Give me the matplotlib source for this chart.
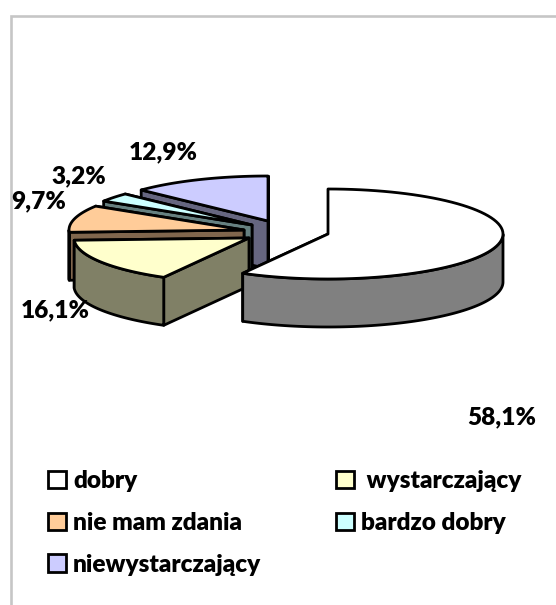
#!/usr/bin/env python
# -*- coding: utf-8 -*-
import numpy as np
import matplotlib
matplotlib.use("Agg")
import matplotlib.pyplot as plt
from matplotlib.patches import Polygon, Patch

labels = ["dobry", " wystarczający", "nie mam zdania", "bardzo dobry", "niewystarczający"]
values = [58.1, 16.1, 9.7, 3.2, 12.9]
value_labels = ["58,1%", "16,1%", "9,7%", "3,2%", "12,9%"]
colors = ["#FFFFFF", "#FFFFCC", "#FFCC99", "#CCFFFF", "#CCCCFF"]

# pixel layout of the exploded pie
centers = [(328, 234), (249, 238), (244, 230), (252, 225), (268, 221)]
label_pos = [(467, 417), (21, 310), (11, 201), (51, 176), (129, 152)]
rx, ry, depth = 175.0, 45.0, 48.0
line_w = 2.0
font = "Lato"
font_size = 17.6


def darker(c):
    rgb = matplotlib.colors.to_rgb(c)
    return tuple(v * 0.5 for v in rgb)


def arc(cx, cy, a0, a1, dy=0.0):
    t = np.radians(np.linspace(a0, a1, 80))
    return np.column_stack([cx + rx * np.cos(t), cy - ry * np.sin(t) + dy])


def draw_slice(ax, cx, cy, a0, a1, color):
    side = darker(color)
    pts = arc(cx, cy, a0, a1)
    # the two cut faces, the one further back first
    for p in sorted((pts[0], pts[-1]), key=lambda q: q[1]):
        face = [(cx, cy), p, (p[0], p[1] + depth), (cx, cy + depth)]
        ax.add_patch(Polygon(face, closed=True, fc=side, ec="black", lw=line_w, joinstyle="round"))
    # outer wall, front part only
    t = np.linspace(a0, a1, 200)
    front = t[np.sin(np.radians(t)) <= 0]
    if len(front) > 1:
        top = arc(cx, cy, front[0], front[-1])
        bottom = arc(cx, cy, front[-1], front[0], depth)
        ax.add_patch(Polygon(np.vstack([top, bottom]), closed=True, fc=side, ec="black",
                             lw=line_w, joinstyle="round"))
    ax.add_patch(Polygon(np.vstack([[(cx, cy)], pts]), closed=True, fc=color, ec="black",
                         lw=line_w, joinstyle="round"))


fig = plt.figure(figsize=(5.56, 6.05), dpi=100)
ax = fig.add_axes([0, 0, 1, 1])
ax.set_xlim(0, 556)
ax.set_ylim(605, 0)
ax.axis("off")

# frame of the chart, only top and left are in the crop
ax.plot([10.5, 10.5, 556], [605, 15.5, 15.5], color="#C6C6C6", lw=1.9, solid_joinstyle="miter")

# slice angles run clockwise from 12 o'clock
ends = 90 - np.cumsum(values) * 3.6
starts = np.concatenate([[90], ends[:-1]])

for i in [4, 3, 2, 1, 0]:
    draw_slice(ax, centers[i][0], centers[i][1], starts[i], ends[i], colors[i])

for i in range(len(values)):
    ax.text(label_pos[i][0], label_pos[i][1], value_labels[i], family=font, weight="heavy",
            fontsize=font_size, ha="left", va="center", color="black")

order = [0, 2, 4, 1, 3]
handles = [Patch(fc=colors[i], ec="black", lw=line_w, label=labels[i]) for i in order]
ax.legend(handles=handles, ncol=2, loc="upper left", bbox_to_anchor=(48 / 556, 1 - 470 / 605),
          frameon=False, borderpad=0, borderaxespad=0, handlelength=0.72, handleheight=0.72,
          handletextpad=0.3, labelspacing=0.81, columnspacing=3.07,
          prop={"family": font, "weight": "heavy", "size": font_size})

fig.savefig("out.png", dpi=100)
